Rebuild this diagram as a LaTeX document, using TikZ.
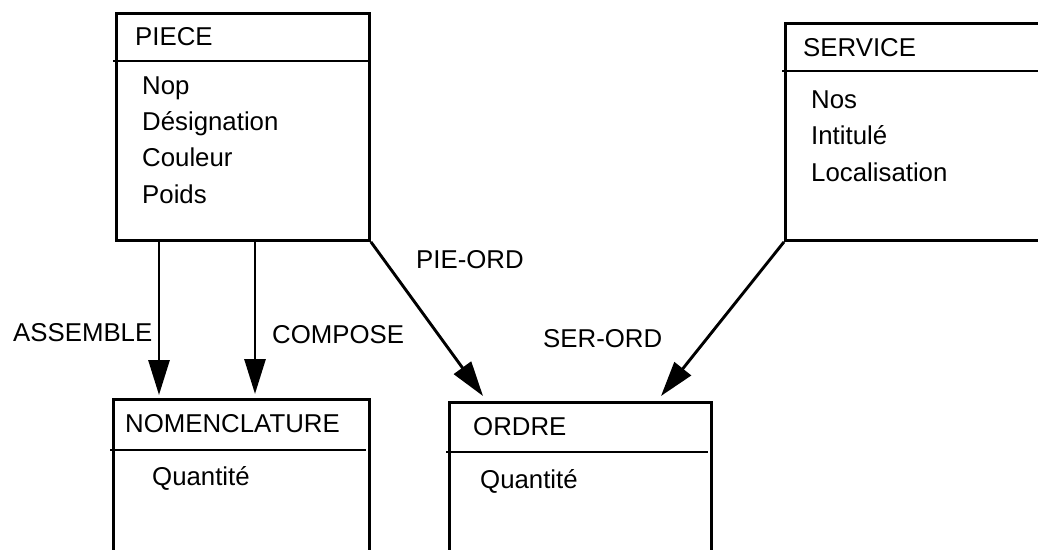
\documentclass[tikz,border=0pt]{standalone}
\usepackage{fontspec}
\setmainfont{Liberation Sans}
\usetikzlibrary{arrows.meta}
\begin{document}
\begin{tikzpicture}[x=1pt,y=-1pt,
  ent/.style={draw,line width=2.9pt,inner sep=0pt,anchor=north west},
  sep/.style={line width=2.9pt},
  txt/.style={anchor=base west,inner sep=0pt,font=\fontsize{25.8}{30}\selectfont},
  arr/.style={line width=2.9pt,-{Triangle[length=35pt,width=21pt]}}]
\useasboundingbox (0,0) rectangle (1038,549);
\clip (0,0) rectangle (1038,549);
\fill[white] (0,0) rectangle (1038,549);
% boxes
\node[ent,minimum width=253pt,minimum height=227pt] (piece) at (115,12) {};
\node[ent,minimum width=300pt,minimum height=217pt] (service) at (784,22) {};
\node[ent,minimum width=256pt,minimum height=200pt] (nomen) at (112,398) {};
\node[ent,minimum width=262pt,minimum height=200pt] (ordre) at (448,401) {};
% header separators
\draw[sep] (113,61) -- (368,61);
\draw[sep] (782,71) -- (1040,71);
\draw[sep] (110,450) -- (366,450);
\draw[sep] (446,452) -- (708,452);
% texts
\node[txt] (t1) at (135,45) {PIECE};
\node[txt] (t2) at (142,94) {Nop};
\node[txt] (t3) at (142,130) {Désignation};
\node[txt] (t4) at (142,166) {Couleur};
\node[txt] (t5) at (142,203) {Poids};
\node[txt] (s1) at (803,56) {SERVICE};
\node[txt] (s2) at (811,108) {Nos};
\node[txt] (s3) at (811,144) {Intitulé};
\node[txt] (s4) at (811,181) {Localisation};
\node[txt] (n1) at (125,432) {NOMENCLATURE};
\node[txt] (n2) at (152,485) {Quantité};
\node[txt] (o1) at (473,435) {ORDRE};
\node[txt] (o2) at (480,488) {Quantité};
% connector labels
\node[txt] (l1) at (13,341) {ASSEMBLE};
\node[txt] (l2) at (272,343) {COMPOSE};
\node[txt] (l3) at (416,268) {PIE-ORD};
\node[txt] (l4) at (543,347) {SER-ORD};
% connectors
\coordinate (e3) at (483,396);
\coordinate (e4) at (661,396);
\draw[arr,shorten >=3pt] (159,0 |- piece.south) -- (159,0 |- nomen.north);
\draw[arr,shorten >=4pt] (255,0 |- piece.south) -- (255,0 |- nomen.north);
\draw[arr] (piece.south east) -- (e3);
\draw[arr] (service.south west) -- (e4);
\end{tikzpicture}
\end{document}
